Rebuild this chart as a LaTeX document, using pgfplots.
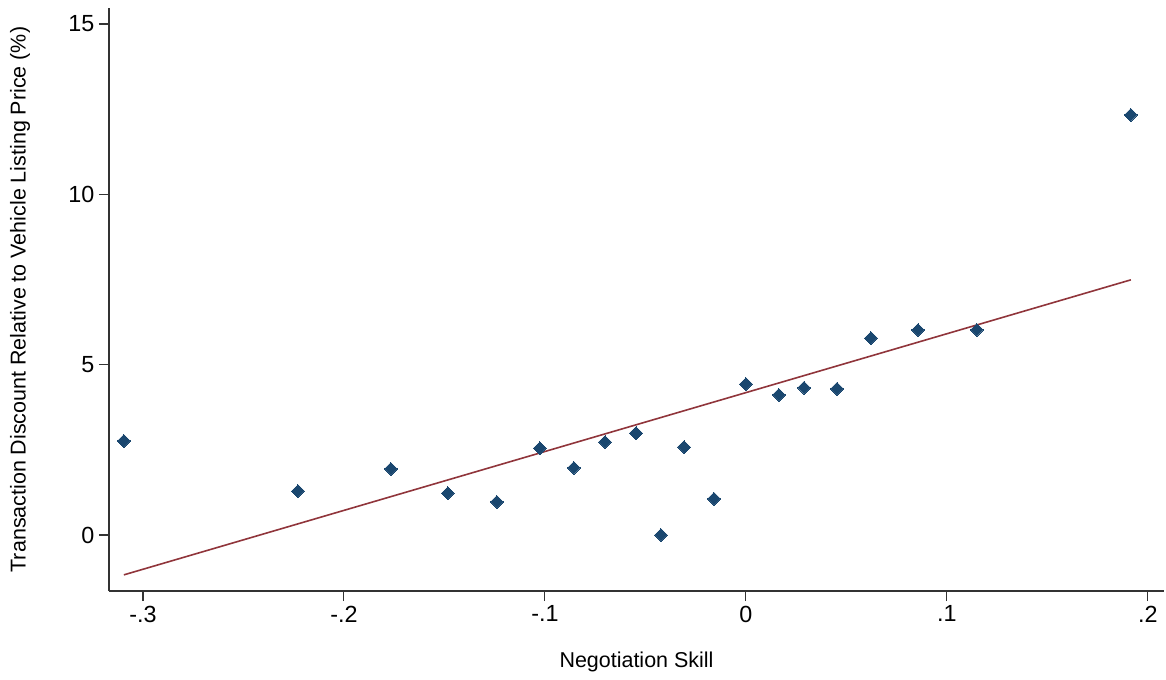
\documentclass[border=0pt]{standalone}
\usepackage{pgfplots}
\pgfplotsset{compat=1.18}
\usepackage{fontspec}
\setmainfont{Liberation Sans}
\definecolor{stnavy}{HTML}{1A476F}
\definecolor{stmaroon}{HTML}{90353B}
\begin{document}
\begin{tikzpicture}
\begin{axis}[
  name=ax,
  scale only axis,
  width=791.25pt, height=437.25pt,
  xmin=-0.3169, xmax=0.208,
  ymin=-1.644, ymax=15.47,
  axis lines=left,
  axis line style={-, line width=0.9pt, color=black!80},
  tick style={line width=0.8pt, color=black!80},
  tick align=outside,
  major tick length=7.5pt,
  xtick={-0.3,-0.2,-0.1,0,0.1,0.2},
  xticklabels={-.3,-.2,-.1,0,.1,.2},
  ytick={0,5,10,15},
  yticklabels={0,5,10,15},
  ticklabel style={font=\fontsize{17.5}{20}\selectfont},
  xlabel={Negotiation Skill},
  ylabel={Transaction Discount Relative to Vehicle Listing Price (\%)},
  label style={font=\fontsize{16.1}{18}\selectfont},
  xlabel style={at={(axis description cs:0.5,-0.1212)}, anchor=center},
  ylabel style={at={(axis description cs:-0.0844,0.5)}, anchor=center},
  clip=false,
]
\addplot[only marks, mark=square*, mark size=3.4pt, color=stnavy, mark options={draw=stnavy, fill=stnavy, line width=0pt, rotate=45}] coordinates {
(-0.3095,2.76)
(-0.2229,1.29)
(-0.1766,1.94)
(-0.1483,1.23)
(-0.1239,0.97)
(-0.1025,2.55)
(-0.0856,1.97)
(-0.0701,2.73)
(-0.0547,2.99)
(-0.0423,0.00)
(-0.0308,2.58)
(-0.0159,1.06)
(0.0000,4.43)
(0.0164,4.11)
(0.0289,4.32)
(0.0453,4.29)
(0.0622,5.78)
(0.0856,6.02)
(0.1149,6.02)
(0.1915,12.33)
};
\addplot[stmaroon, line width=1.2pt] coordinates {(-0.3095,-1.17) (0.1915,7.49)};
\end{axis}
\pgfresetboundingbox
\path ([xshift=-81.75pt,yshift=-66pt]ax.south west) rectangle ([xshift=1.5pt,yshift=6pt]ax.north east);
\end{tikzpicture}
\end{document}
